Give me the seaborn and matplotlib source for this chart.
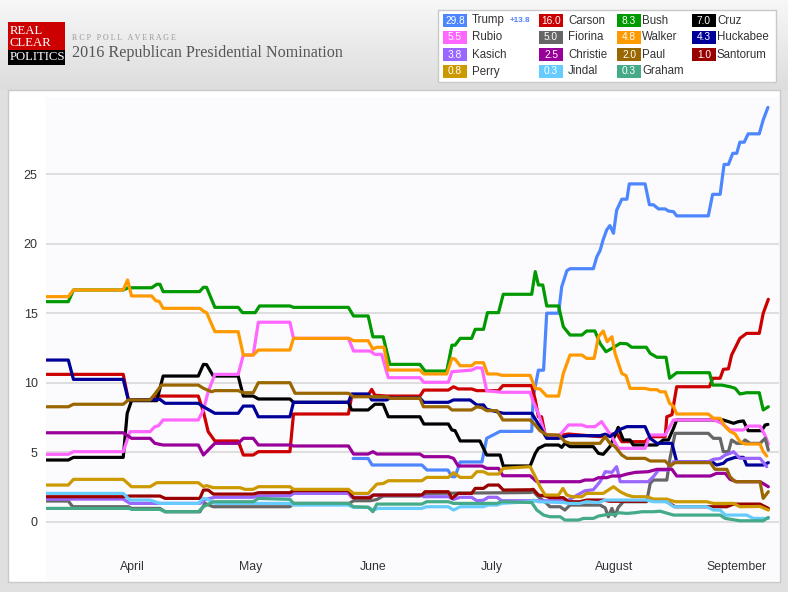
import numpy as np
import pandas as pd
import matplotlib
matplotlib.use("Agg")
import matplotlib.pyplot as plt
import seaborn as sns
from matplotlib.patches import Rectangle

# ---------------- data ----------------
start_date = "2015-03-10"          # day 0 of the day offsets below
candidates = ["Trump", "Carson", "Bush", "Cruz", "Rubio", "Fiorina", "Walker", "Huckabee",
              "Kasich", "Christie", "Paul", "Santorum", "Perry", "Jindal", "Graham"]
latest = [29.8, 16.0, 8.3, 7.0, 5.5, 5.0, 4.8, 4.3, 3.8, 2.5, 2.0, 1.0, 0.8, 0.3, 0.3]
colors = ["#4d86ff", "#cc0000", "#009900", "#000000", "#ff66ff", "#666666", "#ff9900", "#000099",
          "#9966ff", "#990099", "#996600", "#990000", "#cc9900", "#66ccff", "#44aa88"]
trump_change = "+13.8"
month_starts = ["2015-04-01", "2015-05-01", "2015-06-01", "2015-07-01", "2015-08-01", "2015-09-01"]
month_labels = ["April", "May", "June", "July", "August", "September"]
y_ticks = [0, 5, 10, 15, 20, 25]

trump_days = [78.0, 81.8, 82.8, 95.4, 96.7, 102.0, 103.0, 103.8, 105.1, 110.6, 111.8, 115.2, 123.2, 123.6,
              124.9, 126.2, 127.0, 130.0, 130.8, 132.1, 132.9, 138.8, 139.7, 140.5, 141.3, 142.2, 143.0,
              143.9, 144.7, 146.0, 147.3, 147.9, 151.9, 153.0, 154.0, 155.3, 157.0, 157.8, 159.1, 159.9,
              167.9, 169.0, 170.9, 171.9, 173.0, 174.1, 175.1, 175.9, 177.0, 178.0, 180.8, 181.8, 183.0]
trump_vals = [4.55, 4.55, 4.08, 4.08, 3.72, 3.72, 3.24, 3.24, 4.3, 4.3, 6.0, 6.5, 6.5, 9.0,
              10.9, 10.9, 15.0, 15.0, 16.9, 18.06, 18.2, 18.2, 19.07, 19.5, 20.3, 21.0, 21.3,
              20.75, 22.4, 23.2, 23.2, 24.3, 24.3, 22.8, 22.8, 22.5, 22.5, 22.35, 22.3, 22.0,
              22.0, 23.55, 23.55, 25.7, 25.7, 26.5, 26.5, 27.3, 27.3, 27.9, 27.9, 28.9, 29.8]

carson_days = [0.4, 19.8, 21.1, 26.6, 27.8, 38.8, 40.1, 41.3, 43.0, 48.9, 50.2, 52.7, 54.0, 62.0, 62.9,
               76.8, 77.6, 81.8, 82.7, 83.5, 86.5, 94.9, 95.9, 102.1, 103.4, 104.6, 108.0, 109.3, 114.8,
               115.9, 123.2, 124.1, 124.9, 125.7, 126.6, 130.0, 132.5, 140.5, 144.7, 146.0, 151.9, 153.2,
               157.0, 157.4, 158.7, 159.9, 168.2, 169.0, 170.9, 171.7, 173.0, 173.8, 175.9, 177.6, 180.8,
               181.8, 183.1]
carson_vals = [10.6, 10.6, 8.76, 8.76, 9.04, 9.04, 7.91, 6.48, 5.81, 5.81, 4.8, 4.8, 5.04, 5.04, 7.75,
               7.75, 8.99, 9.1, 9.52, 9.1, 9.04, 9.04, 9.47, 9.47, 9.71, 9.55, 9.55, 9.43, 9.43,
               9.79, 9.79, 8.76, 7.55, 7.55, 6.24, 6.2, 6.31, 6.12, 6.36, 5.76, 5.76, 6.12,
               6.12, 7.55, 7.7, 9.71, 9.71, 10.32, 10.32, 10.96, 11.0, 11.99, 13.19, 13.55, 13.55,
               14.99, 16.0]

bush_days = [0.4, 5.9, 7.2, 19.8, 21.1, 27.0, 28.3, 29.1, 29.9, 39.1, 40.1, 40.9, 43.0, 48.9, 50.0, 53.2,
             54.3, 62.0, 62.9, 76.8, 78.1, 81.8, 83.0, 85.6, 87.3, 94.9, 96.2, 101.7, 103.0, 103.8, 105.1,
             108.0, 108.9, 111.0, 112.0, 114.8, 116.0, 123.2, 124.1, 124.9, 126.0, 127.0, 130.0, 131.2,
             132.9, 135.9, 137.1, 139.2, 140.5, 142.0, 143.5, 145.6, 147.3, 148.5, 152.2, 153.2, 154.9,
             157.2, 158.1, 159.9, 168.2, 169.0, 171.3, 173.4, 174.7, 175.9, 177.6, 180.8, 181.8, 183.1]
bush_vals = [15.83, 15.83, 16.67, 16.67, 16.83, 16.83, 17.08, 17.08, 16.55, 16.55, 16.86, 16.86, 15.42,
             15.42, 15.04, 15.04, 15.52, 15.52, 15.42, 15.42, 14.8, 14.8, 13.3, 13.3, 11.32, 11.32, 10.84,
             10.84, 12.7, 12.7, 13.19, 13.19, 13.84, 13.84, 15.04, 15.04, 16.36, 16.36, 17.99, 17.03,
             17.03, 15.52, 15.52, 14.03, 13.43, 13.43, 13.72, 13.72, 12.83, 12.23, 12.47, 12.83, 12.8,
             12.55, 12.55, 12.11, 11.83, 11.83, 10.32, 10.72, 10.72, 9.83, 9.83, 9.71, 9.6, 9.19, 9.28,
             9.28, 8.04, 8.27]

cruz_days = [0.4, 5.9, 7.2, 19.8, 20.8, 21.9, 28.3, 29.9, 38.8, 40.1, 40.9, 42.6, 48.9, 50.2, 52.7, 54.0,
             62.0, 62.9, 76.8, 77.6, 81.8, 83.5, 85.6, 86.9, 94.9, 95.9, 102.1, 103.0, 103.8, 105.1, 110.1,
             111.8, 115.2, 116.0, 122.8, 124.1, 124.9, 126.6, 130.0, 130.8, 131.6, 132.9, 138.8, 140.1,
             141.3, 143.0, 144.3, 145.1, 146.4, 148.1, 148.9, 154.9, 156.5, 157.8, 159.1, 159.9, 171.7,
             173.0, 174.3, 175.5, 176.8, 178.0, 181.4, 182.3, 183.0]
cruz_vals = [4.44, 4.44, 4.63, 4.63, 7.8, 8.71, 8.71, 10.48, 10.48, 11.32, 11.3, 10.48, 10.48, 9.04, 9.04,
             8.83, 8.83, 8.59, 8.59, 8.04, 8.04, 8.45, 8.45, 7.55, 7.55, 7.03, 7.03, 6.6, 6.55, 5.81, 5.81,
             4.8, 4.8, 4.01, 4.01, 4.92, 5.28, 5.52, 5.52, 5.35, 5.64, 5.4, 5.4, 4.92, 4.85, 5.4, 6.24,
             6.79, 5.88, 5.88, 5.52, 5.52, 5.88, 5.88, 6.72, 7.32, 7.32, 7.2, 7.08, 7.2, 7.25, 6.55, 6.55,
             6.96, 7.0]

rubio_days = [0.4, 5.9, 7.2, 19.8, 21.5, 26.6, 27.8, 28.7, 29.9, 38.8, 40.1, 41.3, 43.0, 48.9, 50.2, 52.7,
              54.0, 62.0, 62.9, 76.8, 78.1, 82.3, 83.5, 85.2, 86.9, 94.9, 95.9, 102.1, 103.0, 108.0, 109.3,
              110.6, 111.8, 115.6, 122.8, 123.6, 124.9, 126.2, 127.0, 130.0, 132.5, 135.9, 137.1, 139.2,
              140.9, 142.2, 143.5, 145.1, 151.9, 153.2, 157.0, 159.1, 169.4, 171.3, 173.4, 176.8, 178.0,
              181.0, 182.3, 183.1]
rubio_vals = [4.85, 4.85, 5.04, 5.04, 6.48, 6.48, 6.84, 6.9, 7.32, 7.32, 8.04, 9.35, 10.6, 10.6, 11.99,
              11.99, 14.35, 14.35, 13.19, 13.19, 12.28, 12.28, 12.04, 12.04, 10.36, 10.36, 10.03, 10.03,
              10.79, 10.91, 11.08, 11.05, 9.43, 9.31, 9.31, 8.63, 7.8, 6.6, 6.12, 6.12, 6.96, 6.96, 6.84,
              6.84, 7.2, 6.65, 6.12, 5.28, 5.28, 6.24, 6.24, 7.32, 7.32, 7.08, 6.6, 6.6, 6.88, 6.88, 6.2, 5.59]

fiorina_days = [0.4, 5.9, 7.0, 21.1, 21.9, 29.1, 30.4, 39.2, 40.5, 42.6, 62.0, 62.9, 77.0, 78.1, 82.3, 84.0,
                85.6, 94.9, 96.6, 122.8, 123.6, 124.9, 127.0, 127.8, 130.4, 131.6, 132.9, 140.5, 141.8,
                142.6, 143.5, 144.3, 145.1, 146.4, 152.3, 153.2, 154.0, 157.4, 158.2, 159.5, 167.9, 169.2,
                170.9, 171.7, 173.0, 173.8, 175.1, 176.4, 177.2, 178.5, 181.0, 182.3, 183.1]
fiorina_vals = [1.49, 1.49, 1.08, 1.08, 0.96, 0.96, 0.72, 0.72, 1.32, 1.08, 1.08, 1.32, 1.32, 1.51, 1.51, 1.6,
                1.85, 1.85, 2.04, 2.1, 2.16, 1.8, 1.32, 1.08, 1.08, 0.84, 1.2, 1.2, 1.0,
                0.36, 0.96, 0.41, 1.03, 1.44, 1.44, 2.76, 3.0, 3.0, 4.56, 6.36, 6.36, 6.0,
                6.0, 5.04, 5.04, 5.88, 5.64, 5.64, 5.88, 5.64, 5.64, 6.0, 5.16]

walker_days = [0.4, 5.9, 7.2, 19.8, 20.9, 21.9, 27.0, 28.1, 28.9, 29.9, 39.2, 40.3, 40.9, 43.0, 48.9, 50.2,
               52.7, 54.0, 62.0, 62.9, 77.0, 78.1, 81.8, 83.0, 84.0, 85.8, 86.9, 94.9, 95.9, 101.7, 103.0,
               103.8, 105.1, 108.0, 108.9, 111.0, 112.0, 114.4, 115.6, 122.8, 124.1, 125.3, 127.0, 130.0,
               131.2, 132.9, 135.9, 137.1, 139.0, 140.1, 141.3, 142.3, 143.5, 144.3, 146.0, 147.1, 148.1,
               151.9, 153.2, 154.9, 155.7, 157.0, 158.1, 159.1, 159.9, 167.9, 169.2, 170.9, 172.2, 173.4,
               174.7, 175.9, 177.2, 181.0, 181.8, 182.7]
walker_vals = [16.19, 16.19, 16.67, 16.67, 17.39, 16.24, 16.24, 15.88, 15.85, 15.35, 15.35, 15.11, 15.04,
               13.67, 13.67, 11.99, 11.99, 12.35, 12.35, 13.19, 13.19, 13.02, 13.02, 12.42, 12.55, 12.55,
               10.91, 10.91, 10.63, 10.63, 11.75, 11.7, 11.22, 11.22, 11.44, 11.44, 10.63, 10.63, 10.53,
               10.53, 9.59, 9.55, 9.04, 9.04, 10.67, 11.99, 11.99, 11.75, 11.75, 13.31, 13.72, 12.95, 13.31,
               12.11, 10.67, 10.5, 9.59, 9.59, 9.5, 9.5, 9.35, 9.35, 8.52, 8.3, 7.75, 7.75, 7.44, 7.44,
               6.83, 6.5, 6.31, 5.76, 5.59, 5.59, 5.04, 4.73]

huckabee_days = [0.4, 5.9, 7.2, 19.8, 21.1, 28.3, 29.1, 30.4, 38.8, 40.1, 43.0, 48.9, 50.2, 52.7, 54.0, 62.0,
                 62.9, 76.8, 77.6, 81.8, 82.7, 86.5, 87.3, 94.9, 95.9, 102.1, 103.4, 107.6, 109.3, 111.0,
                 111.8, 116.0, 123.2, 125.3, 127.0, 130.0, 132.5, 140.5, 141.8, 143.0, 145.6, 147.3, 151.9,
                 153.2, 154.9, 158.7, 159.9, 168.8, 170.0, 171.7, 172.6, 174.7, 176.8, 177.6, 181.8, 183.1]
huckabee_vals = [11.63, 11.63, 10.24, 10.24, 8.76, 8.8, 8.8, 8.52, 8.52, 8.27, 7.8, 7.8, 8.32, 8.32, 7.55,
                 7.55, 8.59, 8.59, 9.19, 9.19, 8.76, 8.76, 8.9, 8.9, 8.59, 8.59, 8.76, 8.76, 8.4, 8.4,
                 8.09, 7.8, 7.8, 6.84, 6.0, 6.0, 6.19, 6.19, 6.3, 6.12, 6.65, 6.84, 6.84,
                 6.0, 5.64, 5.64, 4.32, 4.32, 4.08, 4.2, 4.44, 4.63, 4.63, 4.08, 4.08, 4.25]

kasich_days = [0.4, 19.8, 21.5, 39.2, 40.9, 43.0, 52.7, 54.0, 62.0, 62.9, 76.8, 77.6, 81.8, 83.1, 95.4, 95.8,
               102.1, 103.4, 105.1, 108.0, 109.3, 111.0, 112.2, 114.4, 115.6, 131.2, 132.5, 136.7, 138.8,
               140.5, 141.8, 143.5, 144.7, 145.6, 152.7, 154.0, 155.3, 157.8, 159.1, 167.9, 169.2, 170.9,
               172.2, 173.4, 174.3, 175.9, 181.0, 182.7]
kasich_vals = [1.63, 1.63, 1.32, 1.32, 1.63, 1.76, 1.76, 1.87, 1.87, 2.04, 2.04, 1.76, 1.76, 1.92, 1.92, 1.8,
               1.8, 1.61, 1.76, 1.76, 1.51, 1.55, 1.76, 1.76, 1.51, 1.51, 1.56, 2.23, 2.3,
               2.88, 3.6, 3.55, 3.96, 2.88, 2.88, 3.24, 3.72, 3.72, 4.32, 4.32, 4.49, 4.55,
               4.8, 4.92, 5.04, 4.56, 4.56, 3.96]

christie_days = [0.4, 19.8, 21.9, 26.6, 27.8, 29.9, 38.8, 40.1, 41.8, 43.0, 48.9, 50.2, 52.7, 54.0, 62.0, 62.9,
                 76.8, 78.1, 81.8, 83.0, 84.0, 94.9, 95.9, 102.1, 103.4, 104.6, 110.6, 111.8, 114.8, 115.9,
                 122.8, 124.5, 135.4, 136.7, 138.8, 140.1, 142.2, 143.5, 145.6, 147.3, 149.4, 152.7, 154.9,
                 158.7, 159.9, 168.4, 170.0, 172.2, 173.4, 175.1, 181.0, 183.1]
christie_vals = [6.4, 6.4, 6.0, 6.0, 5.64, 5.52, 5.52, 4.8, 5.3, 5.64, 5.64, 6.0, 6.0, 5.52, 5.52, 5.45,
                 5.45, 4.87, 4.87, 5.04, 4.87, 4.87, 4.68, 4.68, 4.56, 4.01, 4.01, 3.84, 3.84, 3.31,
                 3.31, 2.88, 2.88, 3.0, 3.0, 3.17, 3.17, 3.29, 3.29, 3.43, 3.55, 3.6, 3.77,
                 3.77, 3.29, 3.29, 3.48, 3.48, 3.05, 2.88, 2.88, 2.52]

paul_days = [0.4, 5.9, 7.2, 19.8, 21.1, 26.6, 27.8, 29.5, 38.8, 40.1, 40.9, 42.2, 43.0, 48.9, 50.2, 52.7, 54.0,
             62.0, 63.3, 76.8, 78.1, 86.5, 87.3, 94.9, 95.8, 102.1, 103.0, 108.0, 109.3, 110.6, 111.8, 114.4,
             115.9, 122.8, 124.1, 125.3, 127.0, 130.0, 131.6, 132.9, 140.5, 141.8, 143.0, 144.3, 146.0,
             147.3, 151.9, 153.2, 157.0, 158.2, 159.5, 168.4, 169.6, 172.6, 173.4, 174.7, 181.0, 181.8, 183.1]
paul_vals = [8.27, 8.27, 8.45, 8.45, 8.76, 8.76, 9.19, 9.83, 9.83, 9.6, 9.5, 9.35, 9.43, 9.43, 9.28, 9.28, 10.0,
             10.0, 9.24, 9.24, 8.99, 8.99, 8.88, 8.88, 8.27, 8.27, 8.04, 8.04, 8.27, 8.2, 7.99, 7.99,
             7.32, 7.32, 6.96, 6.55, 6.24, 6.24, 5.76, 5.64, 5.64, 6.12, 5.64, 5.4, 4.8,
             4.56, 4.56, 4.37, 4.37, 4.01, 4.25, 4.25, 3.77, 3.77, 3.24, 2.88, 2.88, 1.68, 2.16]

santorum_days = [0.4, 19.8, 21.5, 29.1, 30.4, 39.2, 40.1, 41.3, 42.6, 52.7, 54.0, 62.0, 62.9, 76.8, 78.1, 82.3,
                 83.1, 95.4, 96.2, 102.1, 103.0, 104.6, 108.0, 108.9, 111.0, 112.2, 114.8, 116.0, 122.8,
                 123.6, 124.9, 126.6, 127.8, 131.2, 132.5, 135.4, 137.1, 141.3, 143.0, 151.9, 153.2, 155.7,
                 157.4, 159.5, 172.6, 174.3, 181.0, 183.1]
santorum_vals = [1.8, 1.8, 1.85, 1.85, 1.68, 1.68, 2.28, 2.28, 1.99, 1.99, 2.09, 2.09, 2.24, 2.24, 1.72, 1.72,
                 1.92, 1.92, 2.16, 2.16, 1.68, 2.04, 2.04, 2.4, 2.4, 2.64, 2.64, 2.28, 2.3,
                 2.33, 1.92, 1.85, 1.73, 1.73, 1.44, 1.44, 1.56, 1.56, 1.47, 1.47, 1.61, 1.55,
                 1.44, 1.08, 1.08, 1.27, 1.27, 0.96]

perry_days = [0.4, 5.9, 7.2, 19.8, 21.9, 26.6, 28.3, 38.8, 40.1, 40.9, 42.6, 49.4, 50.6, 52.7, 54.0, 62.0,
              62.9, 76.8, 78.1, 81.8, 84.0, 85.6, 86.9, 95.4, 96.6, 102.1, 103.4, 105.1, 108.0, 109.3, 111.0,
              112.2, 114.8, 116.0, 122.8, 124.1, 125.3, 126.6, 130.0, 131.1, 132.1, 133.4, 135.9, 137.1,
              141.3, 142.6, 143.9, 145.6, 147.3, 148.9, 152.3, 154.0, 157.4, 159.5, 167.5, 169.2, 174.3,
              175.9, 181.0, 183.1]
perry_vals = [2.64, 2.64, 3.05, 3.05, 2.52, 2.52, 2.81, 2.81, 2.52, 2.6, 2.45, 2.45, 2.33, 2.33, 2.52, 2.52,
              2.33, 2.33, 2.04, 2.04, 2.71, 2.75, 2.95, 2.95, 3.19, 3.19, 3.53, 3.19, 3.19, 3.6, 3.6,
              3.43, 3.43, 3.84, 3.96, 3.24, 2.52, 1.92, 1.92, 2.4, 1.92, 1.8, 1.8, 2.04,
              2.04, 2.28, 2.52, 2.16, 1.92, 1.8, 1.8, 1.63, 1.63, 1.44, 1.44, 1.32, 1.32,
              1.08, 1.1, 0.84]

jindal_days = [0.4, 19.8, 21.5, 26.6, 27.8, 29.1, 38.8, 40.1, 41.3, 43.0, 62.0, 62.9, 76.8, 78.1, 81.8, 83.1,
               84.4, 95.4, 96.6, 102.1, 103.4, 105.1, 111.0, 112.2, 114.4, 115.6, 122.8, 123.6, 124.9,
               131.2, 132.5, 135.4, 137.1, 140.1, 141.8, 152.3, 154.0, 157.4, 159.1, 167.5, 169.2, 170.9,
               172.2, 177.6, 179.3, 183.1]
jindal_vals = [2.04, 2.04, 1.56, 1.56, 1.44, 1.32, 1.32, 1.68, 1.6, 1.32, 1.32, 1.2, 1.2, 1.03, 1.03, 0.84,
               0.96, 0.96, 1.08, 1.08, 0.84, 1.08, 1.08, 1.2, 1.2, 1.32, 1.45, 1.56, 1.44,
               1.38, 1.32, 1.32, 1.44, 1.38, 1.56, 1.56, 1.44, 1.44, 1.08, 1.08, 0.84, 0.84,
               0.48, 0.48, 0.24, 0.24]

graham_days = [0.4, 21.5, 21.9, 29.1, 30.4, 38.8, 40.1, 42.6, 52.7, 54.0, 62.0, 62.9, 76.8, 78.1, 81.8, 83.0,
               84.0, 95.4, 96.6, 102.1, 103.4, 114.4, 115.6, 123.2, 124.5, 126.2, 127.8, 130.4, 131.6,
               135.0, 136.3, 138.8, 140.1, 143.0, 144.3, 145.1, 147.3, 149.4, 151.1, 154.0, 155.7, 159.1,
               170.9, 172.2, 175.9, 181.8, 183.1]
graham_vals = [0.96, 0.96, 0.89, 0.89, 0.72, 0.72, 1.08, 1.44, 1.44, 1.68, 1.61, 1.32, 1.32, 1.08, 1.05, 0.72,
               1.27, 1.27, 1.44, 1.44, 1.32, 1.32, 1.44, 1.38, 0.84, 0.48, 0.36, 0.36, 0.12,
               0.12, 0.24, 0.24, 0.41, 0.55, 0.5, 0.65, 0.6, 0.65, 0.72, 0.72, 0.76, 0.48,
               0.48, 0.24, 0.07, 0.07, 0.31]

series = {
    "Trump": (trump_days, trump_vals), "Carson": (carson_days, carson_vals),
    "Bush": (bush_days, bush_vals), "Cruz": (cruz_days, cruz_vals),
    "Rubio": (rubio_days, rubio_vals), "Fiorina": (fiorina_days, fiorina_vals),
    "Walker": (walker_days, walker_vals), "Huckabee": (huckabee_days, huckabee_vals),
    "Kasich": (kasich_days, kasich_vals), "Christie": (christie_days, christie_vals),
    "Paul": (paul_days, paul_vals), "Santorum": (santorum_days, santorum_vals),
    "Perry": (perry_days, perry_vals), "Jindal": (jindal_days, jindal_vals),
    "Graham": (graham_days, graham_vals),
}

# ---------------- figure ----------------
W, H = 788, 592
plt.rcParams["font.family"] = ["Liberation Sans", "DejaVu Sans"]
fig = plt.figure(figsize=(W / 100, H / 100), dpi=100)

# background layer in pixel coordinates
bg = fig.add_axes([0, 0, 1, 1], zorder=-10)
bg.set_xlim(0, W)
bg.set_ylim(H, 0)
bg.axis("off")
grad = np.concatenate([np.linspace(0.97, 0.865, 90), np.full(H - 90, 0.88)])
img = np.repeat(grad[:, None, None], 3, axis=2)
bg.imshow(img, extent=[0, W, H, 0], aspect="auto", interpolation="bilinear")
bg.add_patch(Rectangle((8, 90), 772, 492, facecolor="white", edgecolor="#c9c9c9", lw=1))

# logo
bg.add_patch(Rectangle((8, 22), 57, 43, facecolor="#cc0000", edgecolor="none"))
bg.add_patch(Rectangle((8, 50), 57, 15, facecolor="#000000", edgecolor="none"))
for txt, yy in [("REAL", 30.5), ("CLEAR", 43), ("POLITICS", 57.5)]:
    bg.text(9.5, yy, txt, color="white", fontsize=9.2, family="Liberation Serif",
            ha="left", va="center")
bg.text(72, 38, "R C P   P O L L   A V E R A G E", color="#9a9a9a", fontsize=5.8,
        family="Liberation Serif", ha="left", va="center")
bg.text(72, 53, "2016 Republican Presidential Nomination", color="#555555", fontsize=11.6,
        family="Liberation Serif", ha="left", va="center")

# legend box
bg.add_patch(Rectangle((438.5, 9.5), 337.5, 72, facecolor="white", edgecolor="#c9c9c9", lw=1))
row_y = [20, 37, 54, 71]
sw_x = [443, 539, 617, 692]
name_x = [472, 568, 642, 717]
for i, (name, val, col) in enumerate(zip(candidates, latest, colors)):
    r, c = i // 4, i % 4
    bg.add_patch(Rectangle((sw_x[c], row_y[r] - 6.5), 24, 13, facecolor=col, edgecolor="none"))
    bg.text(sw_x[c] + 12, row_y[r] + 0.5, f"{val:.1f}", color="white", fontsize=7.3,
            ha="center", va="center")
    bg.text(name_x[c], row_y[r] + 0.5, name, color="#333333", fontsize=8.3,
            ha="left", va="center")
bg.text(510, 21, trump_change, color="#4d7fff", fontsize=5.9, fontweight="bold",
        ha="left", va="center")

# ---------------- chart ----------------
rows = []
base = pd.Timestamp(start_date)
for name in candidates:
    d, v = series[name]
    for dd, vv in zip(d, v):
        rows.append((name, base + pd.Timedelta(days=dd), vv))
df = pd.DataFrame(rows, columns=["candidate", "date", "value"])

ax = fig.add_axes([46 / W, 1 - 580 / H, 733 / W, 483 / H])
ax.set_facecolor("#fbfbfd")
sns.lineplot(data=df, x="date", y="value", hue="candidate", hue_order=candidates,
             palette=dict(zip(candidates, colors)), estimator=None, sort=False,
             linewidth=2.3, legend=False, ax=ax)
for ln in ax.lines:
    ln.set_solid_joinstyle("round")
    ln.set_solid_capstyle("round")

ax.set_xlim(base + pd.Timedelta(days=0.25), base + pd.Timedelta(days=185.8))
ax.set_ylim(-4.19, 30.55)
ax.set_yticks(y_ticks)
ax.set_yticklabels([str(t) for t in y_ticks])
ax.set_xticks(pd.to_datetime(month_starts))
ax.set_xticklabels(month_labels)
ax.grid(axis="y", color="#d9d9d9", lw=1.2)
ax.grid(axis="x", visible=False)
ax.set_axisbelow(True)
for s in ax.spines.values():
    s.set_visible(False)
ax.tick_params(axis="y", length=0, pad=6, labelsize=9, labelcolor="#333333")
ax.tick_params(axis="x", length=0, pad=-14, labelsize=8.8, labelcolor="#333333")
ax.set_xlabel("")
ax.set_ylabel("")

fig.savefig("out.png", dpi=100)
